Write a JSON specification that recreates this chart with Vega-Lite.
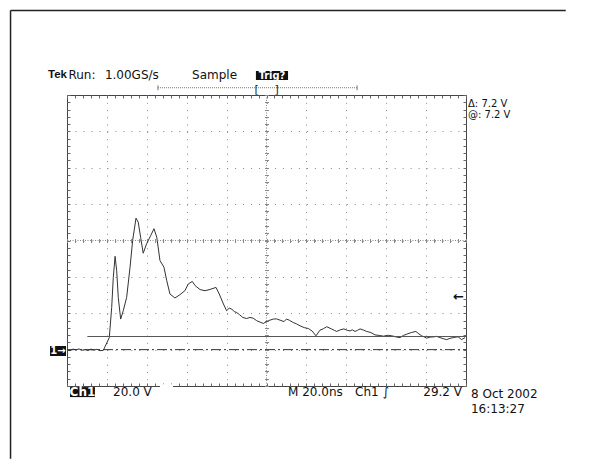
{
  "$schema": "https://vega.github.io/schema/vega-lite/v6.json",
  "width": 399,
  "height": 291,
  "autosize": "none",
  "padding": {"left": 67, "top": 95, "right": 127, "bottom": 88},
  "background": "white",
  "data": {"values": [{}]},
  "config": {
    "view": {"stroke": "#444", "strokeWidth": 1},
    "text": {"font": "DejaVu Sans", "fontSize": 12, "color": "#111", "baseline": "middle", "align": "left"}
  },
  "resolve": {"axis": {"x": "independent", "y": "independent"}},
  "layer": [
    {
      "data": {"values": [
        {"t": 0, "v": 0.0}, {"t": 1.5, "v": -0.6}, {"t": 3, "v": 0.3}, {"t": 4.5, "v": -0.2}, {"t": 6, "v": 0.4},
        {"t": 7.5, "v": -0.4}, {"t": 9, "v": 0.1}, {"t": 10.5, "v": -0.5}, {"t": 12, "v": 0.3}, {"t": 13.5, "v": -0.3},
        {"t": 15, "v": 0.2}, {"t": 16.5, "v": -0.6}, {"t": 18.2, "v": -0.4},
        {"t": 21.2, "v": 6.6}, {"t": 22.4, "v": 23.2}, {"t": 23.2, "v": 39.7}, {"t": 24.1, "v": 51.3}, {"t": 24.9, "v": 43.4},
        {"t": 25.7, "v": 28.7}, {"t": 26.9, "v": 16.8}, {"t": 28.2, "v": 21.4}, {"t": 29.9, "v": 28.7}, {"t": 31.6, "v": 45.3},
        {"t": 32.9, "v": 60}, {"t": 34.6, "v": 72.3}, {"t": 35.7, "v": 70.1}, {"t": 36.9, "v": 61.8}, {"t": 38.2, "v": 53},
        {"t": 39.9, "v": 58.2}, {"t": 42.0, "v": 62.8}, {"t": 43.6, "v": 66.5}, {"t": 45.0, "v": 61.8}, {"t": 46.6, "v": 49},
        {"t": 48.6, "v": 45.3}, {"t": 50.0, "v": 37.9}, {"t": 51.6, "v": 30.6}, {"t": 54.1, "v": 28.4}, {"t": 56.6, "v": 30.2},
        {"t": 59.1, "v": 32.4}, {"t": 60.8, "v": 36.1}, {"t": 62.8, "v": 37.5}, {"t": 64.2, "v": 35.2}, {"t": 66.7, "v": 33},
        {"t": 69.2, "v": 32.4}, {"t": 71.7, "v": 33.1}, {"t": 74.7, "v": 34.2}, {"t": 76.3, "v": 30.6}, {"t": 78.4, "v": 25.1},
        {"t": 80.0, "v": 21.4}, {"t": 81.3, "v": 22.8}, {"t": 82.6, "v": 22.3}, {"t": 83.8, "v": 20.9}, {"t": 85.1, "v": 20.4},
        {"t": 86.5, "v": 19.2}, {"t": 88.1, "v": 17.7}, {"t": 90, "v": 17.1}, {"t": 91.7, "v": 17.7}, {"t": 93.3, "v": 17.3},
        {"t": 95.1, "v": 15.9}, {"t": 96.8, "v": 15.1}, {"t": 98.4, "v": 14.4}, {"t": 100.9, "v": 15.9}, {"t": 103.4, "v": 16.8},
        {"t": 105, "v": 16.9}, {"t": 106.8, "v": 16.2}, {"t": 108.8, "v": 15.4}, {"t": 110, "v": 16.8}, {"t": 111.4, "v": 16.2},
        {"t": 113.4, "v": 14.9}, {"t": 115, "v": 14.2}, {"t": 116.8, "v": 13.1}, {"t": 118.9, "v": 12.1}, {"t": 121.0, "v": 11.6},
        {"t": 122.9, "v": 10.2}, {"t": 124.8, "v": 7.6}, {"t": 126.8, "v": 10.7}, {"t": 128.5, "v": 11.5}, {"t": 130.2, "v": 12.6},
        {"t": 132.7, "v": 11.3}, {"t": 134, "v": 10.6}, {"t": 135.2, "v": 10}, {"t": 137, "v": 10.9}, {"t": 138.8, "v": 11.4},
        {"t": 140.5, "v": 10.6}, {"t": 141.9, "v": 10.3}, {"t": 143, "v": 10.9}, {"t": 144.4, "v": 10}, {"t": 145.6, "v": 10.6},
        {"t": 146.9, "v": 11.4}, {"t": 148.5, "v": 10.8}, {"t": 150.2, "v": 10}, {"t": 152.3, "v": 9.4}, {"t": 154.4, "v": 8.1},
        {"t": 156.5, "v": 7.8}, {"t": 158.6, "v": 7.4}, {"t": 161, "v": 7.9}, {"t": 163.6, "v": 7.4}, {"t": 165.3, "v": 6.9},
        {"t": 166.9, "v": 6.6}, {"t": 168.6, "v": 7.8}, {"t": 170.3, "v": 8.5}, {"t": 172.6, "v": 9.4}, {"t": 174.9, "v": 10},
        {"t": 176.4, "v": 8.6}, {"t": 177.8, "v": 7.6}, {"t": 179, "v": 7.0}, {"t": 180.3, "v": 6.3}, {"t": 182, "v": 6.9},
        {"t": 183.6, "v": 7}, {"t": 185.3, "v": 7.3}, {"t": 187.0, "v": 6.6}, {"t": 188.6, "v": 6.0}, {"t": 190.3, "v": 5.5},
        {"t": 192, "v": 6.2}, {"t": 193.6, "v": 6.6}, {"t": 195, "v": 6.9}, {"t": 196.1, "v": 7}, {"t": 197.8, "v": 5.5},
        {"t": 199.5, "v": 6.6}
      ]},
      "mark": {"type": "line", "color": "#333", "strokeWidth": 1, "clip": true},
      "encoding": {
        "x": {"field": "t", "type": "quantitative", "scale": {"domain": [0, 200], "nice": false, "zero": false},
          "axis": {"orient": "bottom", "values": [0,4,8,12,16,20,24,28,32,36,40,44,48,52,56,60,64,68,72,76,80,84,88,92,96,100,104,108,112,116,120,124,128,132,136,140,144,148,152,156,160,164,168,172,176,180,184,188,192,196,200],
            "labels": false, "title": null, "domain": false, "tickSize": -3, "tickColor": "#666",
            "grid": true, "gridColor": "#888", "gridDash": [1, 6.275],
            "gridOpacity": {"condition": {"test": "datum.value % 20 === 0 && datum.value > 0 && datum.value < 200", "value": 1}, "value": 0}}},
        "y": {"field": "v", "type": "quantitative", "scale": {"domain": [-20, 140], "nice": false, "zero": false},
          "axis": {"orient": "left", "values": [-20,-16,-12,-8,-4,0,4,8,12,16,20,24,28,32,36,40,44,48,52,56,60,64,68,72,76,80,84,88,92,96,100,104,108,112,116,120,124,128,132,136,140],
            "labels": false, "title": null, "domain": false, "tickSize": -3, "tickColor": "#666",
            "grid": true, "gridColor": "#888", "gridDash": [1, 6.98],
            "gridOpacity": {"condition": {"test": "datum.value % 20 === 0 && datum.value > -20 && datum.value < 140", "value": 1}, "value": 0}}}
      }
    },
    {
      "data": {"values": [{"t0": 10.2, "t1": 200, "v": 7.2}]},
      "mark": {"type": "rule", "color": "#555", "strokeWidth": 1},
      "encoding": {
        "x": {"field": "t0", "type": "quantitative", "scale": {"domain": [0, 200], "nice": false, "zero": false},
          "axis": {"orient": "top", "values": [0,4,8,12,16,20,24,28,32,36,40,44,48,52,56,60,64,68,72,76,80,84,88,92,96,100,104,108,112,116,120,124,128,132,136,140,144,148,152,156,160,164,168,172,176,180,184,188,192,196,200],
            "labels": false, "title": null, "domain": false, "grid": false, "tickSize": -3, "tickColor": "#666"}},
        "x2": {"field": "t1"},
        "y": {"field": "v", "type": "quantitative", "scale": {"domain": [-20, 140], "nice": false, "zero": false},
          "axis": {"orient": "right", "values": [-20,-16,-12,-8,-4,0,4,8,12,16,20,24,28,32,36,40,44,48,52,56,60,64,68,72,76,80,84,88,92,96,100,104,108,112,116,120,124,128,132,136,140],
            "labels": false, "title": null, "domain": false, "grid": false, "tickSize": -3, "tickColor": "#666"}}
      }
    },
    {
      "data": {"values": [{"t0": 0, "t1": 200, "v": 0}]},
      "mark": {"type": "rule", "color": "#333", "strokeWidth": 1, "strokeDash": [10, 3, 2, 3]},
      "encoding": {
        "x": {"field": "t0", "type": "quantitative", "scale": {"domain": [0, 200], "nice": false, "zero": false},
          "axis": {"orient": "top", "offset": -147.5, "values": [0,4,8,12,16,20,24,28,32,36,40,44,48,52,56,60,64,68,72,76,80,84,88,92,96,100,104,108,112,116,120,124,128,132,136,140,144,148,152,156,160,164,168,172,176,180,184,188,192,196,200],
            "labels": false, "title": null, "domain": false, "grid": false, "tickSize": 4, "tickColor": "#888"}},
        "x2": {"field": "t1"},
        "y": {"field": "v", "type": "quantitative", "scale": {"domain": [-20, 140], "nice": false, "zero": false},
          "axis": {"orient": "left", "offset": -201.5, "values": [-20,-16,-12,-8,-4,0,4,8,12,16,20,24,28,32,36,40,44,48,52,56,60,64,68,72,76,80,84,88,92,96,100,104,108,112,116,120,124,128,132,136,140],
            "labels": false, "title": null, "domain": false, "grid": false, "tickSize": 4, "tickColor": "#888"}}
      }
    },
    {
      "mark": {"type": "rule", "color": "#888", "strokeWidth": 1, "strokeDash": [1, 1.5]},
      "encoding": {
        "y": {"datum": 60, "type": "quantitative", "scale": {"domain": [-20, 140], "nice": false, "zero": false}, "axis": null}
      }
    },
    {
      "mark": {"type": "rule", "color": "#888", "strokeWidth": 1, "strokeDash": [1, 1.5]},
      "encoding": {
        "x": {"datum": 100, "type": "quantitative", "scale": {"domain": [0, 200], "nice": false, "zero": false}, "axis": null}
      }
    },
    {
      "mark": {"type": "rect", "color": "white"},
      "encoding": {
        "x": {"datum": 46.6, "type": "quantitative", "scale": {"domain": [0, 200], "nice": false, "zero": false}, "axis": null},
        "x2": {"datum": 53.1},
        "y": {"datum": -19.0, "type": "quantitative", "scale": {"domain": [-20, 140], "nice": false, "zero": false}, "axis": null},
        "y2": {"datum": -21.0}
      }
    },
    {
      "mark": {"type": "rule", "color": "#777", "strokeWidth": 1, "strokeDash": [1, 1]},
      "encoding": {
        "x": {"datum": 45.6, "type": "quantitative", "scale": {"domain": [0, 200], "nice": false, "zero": false}, "axis": null},
        "x2": {"datum": 145.4},
        "y": {"datum": 144, "type": "quantitative", "scale": {"domain": [-20, 140], "nice": false, "zero": false}, "axis": null}
      }
    },
    {
      "mark": {"type": "rule", "color": "#777", "strokeWidth": 1},
      "encoding": {
        "x": {"datum": 45.6, "type": "quantitative", "scale": {"domain": [0, 200], "nice": false, "zero": false}, "axis": null},
        "y": {"datum": 145.3, "type": "quantitative", "scale": {"domain": [-20, 140], "nice": false, "zero": false}, "axis": null},
        "y2": {"datum": 142.6}
      }
    },
    {
      "mark": {"type": "rule", "color": "#777", "strokeWidth": 1},
      "encoding": {
        "x": {"datum": 145.4, "type": "quantitative", "scale": {"domain": [0, 200], "nice": false, "zero": false}, "axis": null},
        "y": {"datum": 145.3, "type": "quantitative", "scale": {"domain": [-20, 140], "nice": false, "zero": false}, "axis": null},
        "y2": {"datum": 142.6}
      }
    },
    {
      "mark": {"type": "text", "text": "[", "fontSize": 11, "color": "#222"},
      "encoding": {
        "x": {"datum": 94.0, "type": "quantitative", "scale": {"domain": [0, 200], "nice": false, "zero": false}, "axis": null},
        "y": {"datum": 143.0, "type": "quantitative", "scale": {"domain": [-20, 140], "nice": false, "zero": false}, "axis": null}
      }
    },
    {
      "mark": {"type": "text", "text": "]", "fontSize": 11, "color": "#222"},
      "encoding": {
        "x": {"datum": 104.0, "type": "quantitative", "scale": {"domain": [0, 200], "nice": false, "zero": false}, "axis": null},
        "y": {"datum": 143.0, "type": "quantitative", "scale": {"domain": [-20, 140], "nice": false, "zero": false}, "axis": null}
      }
    },
    {
      "mark": {"type": "rect", "color": "#111"},
      "encoding": {
        "x": {"datum": 94.7, "type": "quantitative", "scale": {"domain": [0, 200], "nice": false, "zero": false}, "axis": null},
        "x2": {"datum": 110.8},
        "y": {"datum": 153.2, "type": "quantitative", "scale": {"domain": [-20, 140], "nice": false, "zero": false}, "axis": null},
        "y2": {"datum": 148.2}
      }
    },
    {
      "mark": {"type": "text", "text": "Trig?", "font": "DejaVu Sans Condensed", "fontWeight": "bold", "fontSize": 11, "color": "white", "align": "center"},
      "encoding": {
        "x": {"datum": 102.75, "type": "quantitative", "scale": {"domain": [0, 200], "nice": false, "zero": false}, "axis": null},
        "y": {"datum": 150.7, "type": "quantitative", "scale": {"domain": [-20, 140], "nice": false, "zero": false}, "axis": null}
      }
    },
    {
      "mark": {"type": "text", "text": "Tek", "font": "Liberation Sans", "fontWeight": "bold", "fontSize": 11.5},
      "encoding": {
        "x": {"datum": -9.5, "type": "quantitative", "scale": {"domain": [0, 200], "nice": false, "zero": false}, "axis": null},
        "y": {"datum": 151.0, "type": "quantitative", "scale": {"domain": [-20, 140], "nice": false, "zero": false}, "axis": null}
      }
    },
    {
      "mark": {"type": "text", "text": "Run:"},
      "encoding": {
        "x": {"datum": 0.7, "type": "quantitative", "scale": {"domain": [0, 200], "nice": false, "zero": false}, "axis": null},
        "y": {"datum": 151.0, "type": "quantitative", "scale": {"domain": [-20, 140], "nice": false, "zero": false}, "axis": null}
      }
    },
    {
      "mark": {"type": "text", "text": "1.00GS/s"},
      "encoding": {
        "x": {"datum": 19.0, "type": "quantitative", "scale": {"domain": [0, 200], "nice": false, "zero": false}, "axis": null},
        "y": {"datum": 151.0, "type": "quantitative", "scale": {"domain": [-20, 140], "nice": false, "zero": false}, "axis": null}
      }
    },
    {
      "mark": {"type": "text", "text": "Sample"},
      "encoding": {
        "x": {"datum": 62.7, "type": "quantitative", "scale": {"domain": [0, 200], "nice": false, "zero": false}, "axis": null},
        "y": {"datum": 151.0, "type": "quantitative", "scale": {"domain": [-20, 140], "nice": false, "zero": false}, "axis": null}
      }
    },
    {
      "mark": {"type": "text", "text": "Δ: 7.2 V", "fontSize": 10},
      "encoding": {
        "x": {"datum": 201.0, "type": "quantitative", "scale": {"domain": [0, 200], "nice": false, "zero": false}, "axis": null},
        "y": {"datum": 135.3, "type": "quantitative", "scale": {"domain": [-20, 140], "nice": false, "zero": false}, "axis": null}
      }
    },
    {
      "mark": {"type": "text", "text": "@: 7.2 V", "fontSize": 10},
      "encoding": {
        "x": {"datum": 201.0, "type": "quantitative", "scale": {"domain": [0, 200], "nice": false, "zero": false}, "axis": null},
        "y": {"datum": 129.2, "type": "quantitative", "scale": {"domain": [-20, 140], "nice": false, "zero": false}, "axis": null}
      }
    },
    {
      "mark": {"type": "text", "text": "←", "fontSize": 13, "fontWeight": "bold", "align": "right"},
      "encoding": {
        "x": {"datum": 199.0, "type": "quantitative", "scale": {"domain": [0, 200], "nice": false, "zero": false}, "axis": null},
        "y": {"datum": 29.2, "type": "quantitative", "scale": {"domain": [-20, 140], "nice": false, "zero": false}, "axis": null}
      }
    },
    {
      "mark": {"type": "rect", "color": "#111"},
      "encoding": {
        "x": {"datum": -8.5, "type": "quantitative", "scale": {"domain": [0, 200], "nice": false, "zero": false}, "axis": null},
        "x2": {"datum": -0.5},
        "y": {"datum": 2.0, "type": "quantitative", "scale": {"domain": [-20, 140], "nice": false, "zero": false}, "axis": null},
        "y2": {"datum": -3.5}
      }
    },
    {
      "mark": {"type": "text", "text": "1→", "fontSize": 10, "fontWeight": "bold", "color": "white", "align": "center"},
      "encoding": {
        "x": {"datum": -4.5, "type": "quantitative", "scale": {"domain": [0, 200], "nice": false, "zero": false}, "axis": null},
        "y": {"datum": -0.8, "type": "quantitative", "scale": {"domain": [-20, 140], "nice": false, "zero": false}, "axis": null}
      }
    },
    {
      "mark": {"type": "rect", "color": "#111"},
      "encoding": {
        "x": {"datum": 1.5, "type": "quantitative", "scale": {"domain": [0, 200], "nice": false, "zero": false}, "axis": null},
        "x2": {"datum": 14.0},
        "y": {"datum": -20.6, "type": "quantitative", "scale": {"domain": [-20, 140], "nice": false, "zero": false}, "axis": null},
        "y2": {"datum": -26.1}
      }
    },
    {
      "mark": {"type": "text", "text": "Ch1", "fontWeight": "bold", "color": "white", "align": "center"},
      "encoding": {
        "x": {"datum": 7.75, "type": "quantitative", "scale": {"domain": [0, 200], "nice": false, "zero": false}, "axis": null},
        "y": {"datum": -23.3, "type": "quantitative", "scale": {"domain": [-20, 140], "nice": false, "zero": false}, "axis": null}
      }
    },
    {
      "mark": {"type": "text", "text": "20.0 V"},
      "encoding": {
        "x": {"datum": 23.1, "type": "quantitative", "scale": {"domain": [0, 200], "nice": false, "zero": false}, "axis": null},
        "y": {"datum": -23.3, "type": "quantitative", "scale": {"domain": [-20, 140], "nice": false, "zero": false}, "axis": null}
      }
    },
    {
      "mark": {"type": "text", "text": "M 20.0ns"},
      "encoding": {
        "x": {"datum": 110.8, "type": "quantitative", "scale": {"domain": [0, 200], "nice": false, "zero": false}, "axis": null},
        "y": {"datum": -23.3, "type": "quantitative", "scale": {"domain": [-20, 140], "nice": false, "zero": false}, "axis": null}
      }
    },
    {
      "mark": {"type": "text", "text": "Ch1 ∫"},
      "encoding": {
        "x": {"datum": 144.4, "type": "quantitative", "scale": {"domain": [0, 200], "nice": false, "zero": false}, "axis": null},
        "y": {"datum": -23.3, "type": "quantitative", "scale": {"domain": [-20, 140], "nice": false, "zero": false}, "axis": null}
      }
    },
    {
      "mark": {"type": "text", "text": "29.2 V", "align": "right"},
      "encoding": {
        "x": {"datum": 198.0, "type": "quantitative", "scale": {"domain": [0, 200], "nice": false, "zero": false}, "axis": null},
        "y": {"datum": -23.3, "type": "quantitative", "scale": {"domain": [-20, 140], "nice": false, "zero": false}, "axis": null}
      }
    },
    {
      "mark": {"type": "text", "text": "8 Oct 2002"},
      "encoding": {
        "x": {"datum": 202.5, "type": "quantitative", "scale": {"domain": [0, 200], "nice": false, "zero": false}, "axis": null},
        "y": {"datum": -24.4, "type": "quantitative", "scale": {"domain": [-20, 140], "nice": false, "zero": false}, "axis": null}
      }
    },
    {
      "mark": {"type": "text", "text": "16:13:27"},
      "encoding": {
        "x": {"datum": 202.5, "type": "quantitative", "scale": {"domain": [0, 200], "nice": false, "zero": false}, "axis": null},
        "y": {"datum": -32.6, "type": "quantitative", "scale": {"domain": [-20, 140], "nice": false, "zero": false}, "axis": null}
      }
    },
    {
      "mark": {"type": "rule", "color": "#222", "strokeWidth": 1.5},
      "encoding": {
        "x": {"datum": -28.3, "type": "quantitative", "scale": {"domain": [0, 200], "nice": false, "zero": false}, "axis": null},
        "x2": {"datum": 250},
        "y": {"datum": 186.4, "type": "quantitative", "scale": {"domain": [-20, 140], "nice": false, "zero": false}, "axis": null}
      }
    },
    {
      "mark": {"type": "rule", "color": "#222", "strokeWidth": 1.5},
      "encoding": {
        "x": {"datum": -28.3, "type": "quantitative", "scale": {"domain": [0, 200], "nice": false, "zero": false}, "axis": null},
        "y": {"datum": 186.4, "type": "quantitative", "scale": {"domain": [-20, 140], "nice": false, "zero": false}, "axis": null},
        "y2": {"datum": -60}
      }
    }
  ]
}
